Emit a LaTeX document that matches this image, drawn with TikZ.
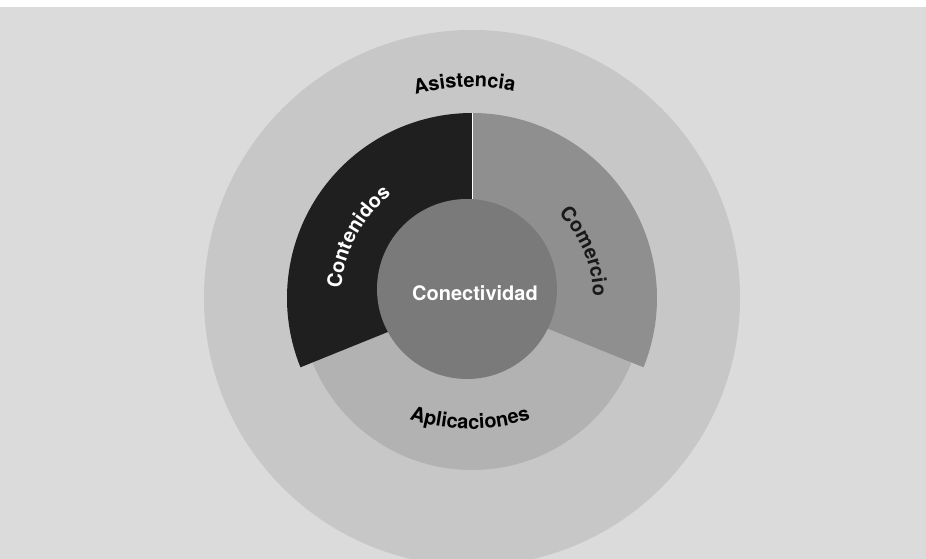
\documentclass[tikz,border=0pt]{standalone}
\usepackage{fontspec}
\setmainfont{TeX Gyre Heros}
\usetikzlibrary{decorations.text}

\definecolor{bggray}{gray}{0.86}
\definecolor{asisgray}{gray}{0.78}
\definecolor{aplgray}{gray}{0.70}
\definecolor{contgray}{gray}{0.12}
\definecolor{comgray}{gray}{0.56}
\definecolor{conngray}{gray}{0.48}

\newcommand\lblfont{\bfseries\fontsize{20bp}{24bp}\selectfont}

\tikzset{
  arclabel/.style={decorate, decoration={text along path, text align=center, text color=#1}},
  arclabel/.default=black,
}

\begin{document}
\begin{tikzpicture}[x=1bp,y=1bp]
  \useasboundingbox (-472,-261) rectangle (454,298);
  \clip (-472,-261) rectangle (454,298);
  % paper
  \fill[bggray] (-472,-261) rectangle (454,298);
  \fill[white] (-472,291) rectangle (454,298);
  % outer layer: Asistencia
  \fill[asisgray] (0,0) circle (268);
  % second layer: Aplicaciones
  \fill[aplgray] (0,0) circle (172);
  % ring sectors
  \fill[contgray] (0,0) -- (202:185) arc[start angle=202, end angle=90, radius=185] -- cycle;
  \fill[comgray] (0,0) -- (90:185) arc[start angle=90, end angle=-22, radius=185] -- cycle;
  \draw[white, line width=0.8bp] (0,0) -- (90:185);
  % core
  \fill[conngray] (-5,9) circle (90);
  \node[font=\lblfont, text=white] (conn) at (3,5) {Conectividad};
  % curved labels
  \path[arclabel, decoration={text={|\lblfont|Asistencia}}]
    (132:211) arc[start angle=132, end angle=52, radius=211];
  \path[arclabel=white, decoration={text={|\lblfont|Contenidos}}]
    (192:131) arc[start angle=192, end angle=112, radius=131];
  \path[arclabel=black!90, decoration={text={|\lblfont|Comercio}}]
    (62.5:121) arc[start angle=62.5, end angle=-17.5, radius=121];
  \path[shift={(-2,58)}, arclabel, decoration={text={|\lblfont|Aplicaciones}}]
    (230:189) arc[start angle=230, end angle=310, radius=189];
\end{tikzpicture}
\end{document}
